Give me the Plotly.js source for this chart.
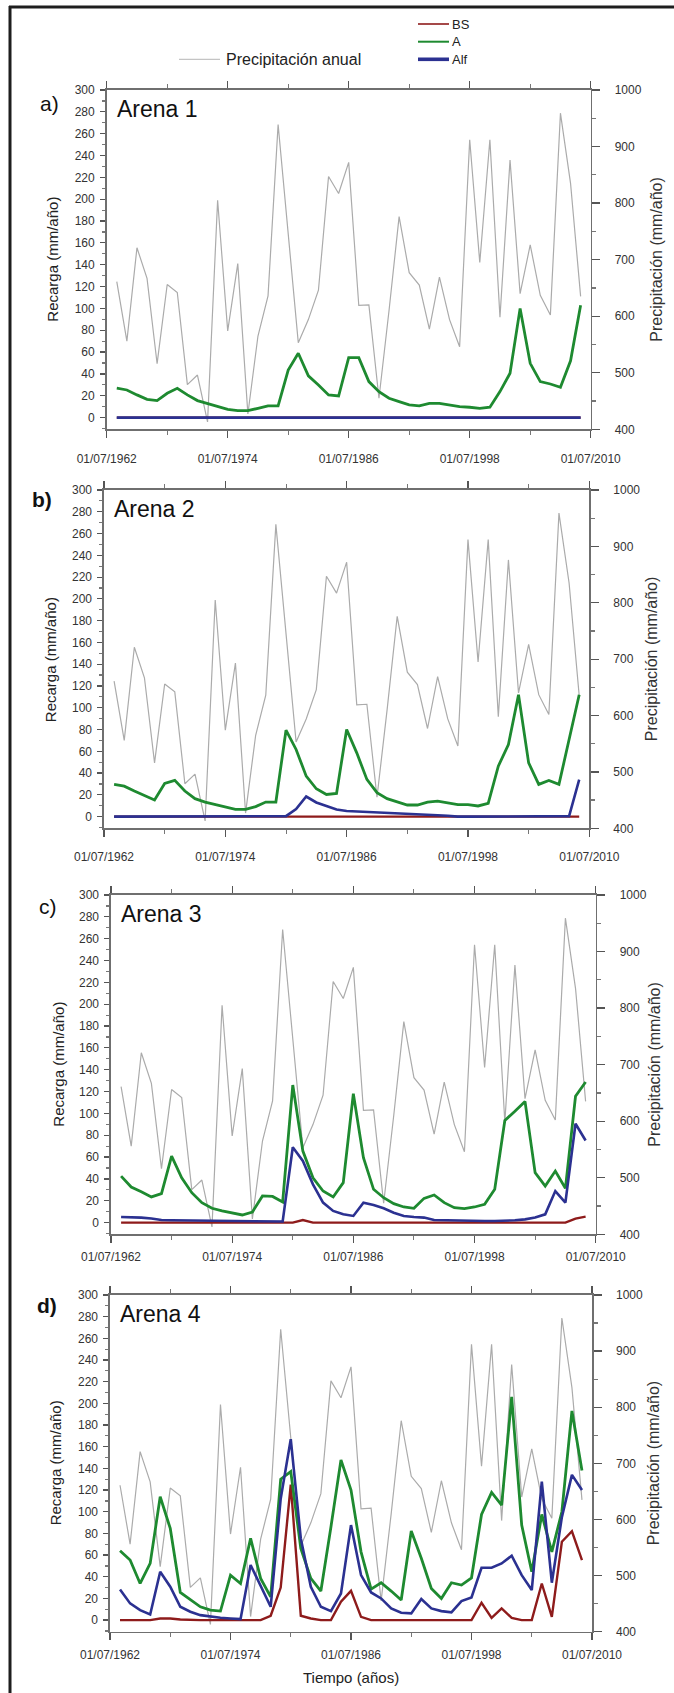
<!DOCTYPE html>
<html>
<head>
<meta charset="utf-8">
<script src="https://cdn.plot.ly/plotly-3.0.1.min.js"></script>
<style>
  html, body { margin: 0; padding: 0; background: #ffffff; }
  #chart { width: 674px; height: 1693px; }
</style>
</head>
<body>
<div id="chart"></div>
<script>
// Hydrological years (values dated 01/07 of each year)
const years = [1963, 1964, 1965, 1966, 1967, 1968, 1969, 1970, 1971, 1972,
               1973, 1974, 1975, 1976, 1977, 1978, 1979, 1980, 1981, 1982,
               1983, 1984, 1985, 1986, 1987, 1988, 1989, 1990, 1991, 1992,
               1993, 1994, 1995, 1996, 1997, 1998, 1999, 2000, 2001, 2002,
               2003, 2004, 2005, 2006, 2007, 2008, 2009];

// Annual precipitation (mm/año)
const precipitacion = [661, 556, 721, 667, 516, 656, 642, 479, 496, 413,
                       805, 574, 693, 427, 565, 636, 939, 745, 553, 594,
                       646, 847, 817, 872, 619, 620, 455, 610, 776, 677,
                       655, 577, 669, 594, 546, 912, 695, 912, 598, 876,
                       640, 726, 637, 602, 959, 835, 635];

// Recharge (mm/año) — Arena 1
const bsArena1  = [0,0,0,0,0,0,0,0,0,0, 0,0,0,0,0,0,0,0,0,0, 0,0,0,0,0,0,0,0,0,0,
                   0,0,0,0,0,0,0,0,0,0, 0,0,0,0,0,0,0];
const aArena1   = [26.9, 25.3, 20.8, 16.8, 15.6, 22.3, 26.9, 20.8, 15.6, 13.1,
                   10.1, 7.6, 6.4, 6.4, 8.5, 10.7, 10.7, 43.6, 58.9, 38.2,
                   29.9, 20.8, 19.8, 54.9, 54.9, 33, 23.8, 17.7, 14.6, 11.6,
                   10.7, 13.1, 13.1, 11.6, 10.1, 9.5, 8.5, 9.5, 23.8, 40.6,
                   100, 49.7, 33, 30.8, 27.8, 52, 103];
const alfArena1 = [0,0,0,0,0,0,0,0,0,0, 0,0,0,0,0,0,0,0,0,0, 0,0,0,0,0,0,0,0,0,0,
                   0,0,0,0,0,0,0,0,0,0, 0,0,0,0,0,0,0];

// Recharge (mm/año) — Arena 2
const bsArena2  = [0,0,0,0,0,0,0,0,0,0, 0,0,0,0,0,0,0,0,0,0, 0,0,0,0,0,0,0,0,0,0,
                   0,0,0,0,0,0,0,0,0,0, 0,0,0,0,0,0,0];
const aArena2   = [29.6, 28, 23.5, 19.5, 15.3, 30.5, 33.3, 23.5, 16.5, 13.4,
                   11.3, 9.2, 6.7, 6.7, 9.2, 13.4, 13.4, 79.4, 61.7, 37.2,
                   25.6, 20.4, 21.4, 80, 58.6, 34.2, 22, 16.5, 13.4, 10.7,
                   10.7, 13.4, 14.3, 12.8, 11, 11, 9.8, 12.2, 46.4, 66.2,
                   112, 49.4, 29.6, 33.3, 29.6, 70.8, 112];
const alfArena2 = [0, 0, 0, 0, 0, 0, 0, 0, 0, 0,
                   0, 0, 0, 0, 0, 0, 0, 0.5, 7, 18.5,
                   13, 9.5, 6.5, 5.2, 4.8, 4.5, 4.3, 3.8, 3.3, 2.8,
                   2.3, 1.8, 1.3, 0.8, 0, 0, 0, 0, 0, 0,
                   0, 0, 0, 0, 0, 0.5, 34];

// Recharge (mm/año) — Arena 3
const bsArena3  = [0, 0, 0, 0, 0, 0, 0, 0, 0, 0,
                   0, 0, 0, 0, 0, 0, 0, 0, 2.4, 0,
                   0, 0, 0, 0, 0, 0, 0, 0, 0, 0,
                   0, 0, 0, 0, 0, 0, 0, 0, 0, 0,
                   0, 0, 0, 0, 0, 3.7, 5.5];
const aArena3   = [42.6, 32.6, 28.3, 23.5, 26.5, 60.9, 41.1, 27.4, 18.3, 13.1,
                   10.7, 9.1, 7.0, 9.7, 24.4, 24, 18.9, 126, 65.5, 41.1,
                   28.9, 23.5, 36.6, 118, 59.4, 30.5, 22.8, 17.4, 14.3, 13.1,
                   22.2, 25.3, 18.3, 13.7, 12.8, 14.3, 16.8, 30.5, 93.5, 102,
                   111, 45.7, 33.5, 47.2, 31.4, 115.7, 128.8];
const alfArena3 = [5.2, 5.2, 4.6, 3.7, 2.4, 2.2, 2.1, 2.0, 1.9, 1.8,
                   1.7, 1.6, 1.5, 1.3, 1.2, 1.0, 1.0, 69, 56.4, 35,
                   18.3, 10.7, 7.6, 6.1, 18.3, 16.1, 13.1, 9.1, 6.1, 5.2,
                   4.6, 2.4, 2.1, 2.0, 1.8, 1.6, 1.5, 1.5, 1.5, 2.1,
                   3.0, 4.6, 7.6, 28.9, 18.3, 90.5, 75.2];

// Recharge (mm/año) — Arena 4
const bsArena4  = [0, 0, 0, 0, 1.5, 1.5, 0.5, 0, 0, 0,
                   0, 0, 0, 0, 0, 4, 30, 125, 4, 1.5,
                   0, 0, 17, 27, 3, 0, 0, 0, 0, 0,
                   0, 0, 0, 0, 0, 0, 16, 2, 10.8, 2,
                   0, 0, 33.8, 3, 72.3, 82, 55.4];
const aArena4   = [64, 55.4, 33.8, 52.3, 113.8, 84.6, 25.5, 18.5, 12.3, 9.2,
                   8.3, 41.5, 33.8, 75.4, 38.5, 21.5, 130, 137, 66.2, 38.5,
                   26.8, 86, 147.7, 120, 63, 28.6, 34.5, 26.8, 18.5, 82.2,
                   57, 29.2, 20, 34.5, 32.3, 39, 97.5, 117.8, 106, 206,
                   87.7, 44.6, 97.5, 63, 100, 193, 138];
const alfArena4 = [28.3, 15.4, 9.2, 5.2, 44.6, 30.8, 12.3, 7.7, 4.6, 3.1,
                   2.2, 1.5, 0.9, 50.8, 32.3, 12.3, 112, 167, 75.4, 30.8,
                   12.3, 8.3, 24.6, 87.7, 41.5, 25.5, 20, 10.8, 6.8, 6.2,
                   19.4, 10.8, 8.3, 7.1, 17.5, 20.9, 48.3, 48.3, 52.3, 59.4,
                   41.5, 27.7, 127.7, 34.5, 95, 134, 120];

const panelLetters = ['a)', 'b)', 'c)', 'd)'];
const panelNames   = ['Arena 1', 'Arena 2', 'Arena 3', 'Arena 4'];
const seriesBS  = [bsArena1, bsArena2, bsArena3, bsArena4];
const seriesA   = [aArena1, aArena2, aArena3, aArena4];
const seriesAlf = [alfArena1, alfArena2, alfArena3, alfArena4];

// ---- page geometry (pixels) ----
const W = 674, H = 1693;
const px = v => v / W;
const py = v => 1 - v / H;

const boxes = [
  { l: 106.7, r: 590.7, t: 90,   b: 429.3,  stand: 11, titleL: 53, titleR: 657, letterX: 49, letterY: 103,  bold: false },
  { l: 104,   r: 589.3, t: 490,  b: 828.3,  stand: 10, titleL: 50, titleR: 651, letterX: 42, letterY: 499,  bold: true  },
  { l: 111,   r: 595.7, t: 895,  b: 1234.3, stand: 4,  titleL: 59, titleR: 655, letterX: 48, letterY: 906,  bold: false },
  { l: 110,   r: 592,   t: 1295, b: 1631.7, stand: 4,  titleL: 55, titleR: 653, letterX: 47, letterY: 1305, bold: true  }
];

const COL_PRECIP = '#ababab';
const COL_BS  = '#8e1b1b';
const COL_A   = '#1e8a30';
const COL_ALF = '#2b3191';
const AXIS_COL = '#6f6f6f';
const TICK_FONT = { family: 'Liberation Sans, Arial, sans-serif', size: 12, color: '#333333' };
const TXT = 'Liberation Sans, Arial, sans-serif';

const dates = years.map(y => y + '-07-01');

const traces = [];
const layout = {
  width: W, height: H,
  margin: { l: 0, r: 0, t: 0, b: 0 },
  paper_bgcolor: '#ffffff',
  plot_bgcolor: 'rgba(0,0,0,0)',
  showlegend: false,
  shapes: [],
  annotations: []
};

boxes.forEach((bx, i) => {
  const n = i + 1;
  const xa = 'x' + (n === 1 ? '' : n);
  const yP = 'y' + (2 * n - 1 === 1 ? '' : 2 * n - 1);   // precipitation (right)
  const yR = 'y' + (2 * n);                               // recharge (left)
  const xKey = 'xaxis' + (n === 1 ? '' : n);
  const yPKey = 'yaxis' + (2 * n - 1 === 1 ? '' : 2 * n - 1);
  const yRKey = 'yaxis' + (2 * n);

  layout[xKey] = {
    domain: [px(bx.l), px(bx.r)],
    anchor: yP,
    type: 'date',
    range: ['1962-07-01', '2010-07-01'],
    tick0: '1962-07-01', dtick: 'M144',
    tickformat: '%d/%m/%Y',
    ticks: 'outside', ticklen: 7, tickwidth: 1.3, tickcolor: '#555',
    minor: { tick0: '1962-07-01', dtick: 'M72', ticks: 'outside', ticklen: 4, tickcolor: '#777', tickwidth: 1 },
    showline: true, linecolor: AXIS_COL, linewidth: 1.6,
    mirror: 'ticks',
    showgrid: false, zeroline: false,
    tickfont: TICK_FONT,
    ticklabelstandoff: bx.stand,
    fixedrange: true
  };
  layout[yPKey] = {
    domain: [py(bx.b), py(bx.t)],
    anchor: xa,
    side: 'right',
    range: [400, 1000],
    tick0: 400, dtick: 100,
    ticks: 'outside', ticklen: 8, tickwidth: 1.3, tickcolor: '#555',
    minor: { tick0: 400, dtick: 50, ticks: 'outside', ticklen: 4, tickcolor: '#777' },
    showline: true, linecolor: AXIS_COL, linewidth: 1.6,
    showgrid: false, zeroline: false,
    tickfont: TICK_FONT,
    ticklabelstandoff: 12,
    fixedrange: true
  };
  layout[yRKey] = {
    overlaying: yP,
    anchor: xa,
    side: 'left',
    range: [-10.7, 300],
    tick0: 0, dtick: 20,
    ticks: 'outside', ticklen: 5, tickwidth: 1.2, tickcolor: '#555',
    minor: { tick0: 0, dtick: 10, ticks: 'outside', ticklen: 3, tickcolor: '#777' },
    showline: true, linecolor: AXIS_COL, linewidth: 1.6,
    showgrid: false, zeroline: false,
    tickfont: TICK_FONT,
    ticklabelstandoff: 3,
    fixedrange: true
  };

  traces.push({
    x: dates, y: precipitacion, xaxis: xa, yaxis: yP,
    type: 'scatter', mode: 'lines', name: 'Precipitación anual',
    line: { color: COL_PRECIP, width: 1.2 }
  });
  traces.push({
    x: dates, y: seriesBS[i], xaxis: xa, yaxis: yR,
    type: 'scatter', mode: 'lines', name: 'BS',
    line: { color: COL_BS, width: 2.4 }
  });
  traces.push({
    x: dates, y: seriesA[i], xaxis: xa, yaxis: yR,
    type: 'scatter', mode: 'lines', name: 'A',
    line: { color: COL_A, width: 2.8 }
  });
  traces.push({
    x: dates, y: seriesAlf[i], xaxis: xa, yaxis: yR,
    type: 'scatter', mode: 'lines', name: 'Alf',
    line: { color: COL_ALF, width: 2.6 }
  });

  const midY = py((bx.t + bx.b) / 2);
  layout.annotations.push(
    { text: panelNames[i], xref: 'paper', yref: 'paper', x: px(bx.l + 8), y: py(bx.t + 19),
      xanchor: 'left', yanchor: 'middle', showarrow: false,
      font: { family: TXT, size: 23, color: '#111' } },
    { text: bx.bold ? '<b>' + panelLetters[i] + '</b>' : panelLetters[i],
      xref: 'paper', yref: 'paper', x: px(bx.letterX), y: py(bx.letterY),
      xanchor: 'center', yanchor: 'middle', showarrow: false,
      font: { family: TXT, size: 21, color: '#111' } },
    { text: 'Recarga (mm/año)', xref: 'paper', yref: 'paper', x: px(bx.titleL), y: midY,
      xanchor: 'center', yanchor: 'middle', textangle: -90, showarrow: false,
      font: { family: TXT, size: 15, color: '#222' } },
    { text: 'Precipitación (mm/año)', xref: 'paper', yref: 'paper', x: px(bx.titleR), y: midY,
      xanchor: 'center', yanchor: 'middle', textangle: -90, showarrow: false,
      font: { family: TXT, size: 16, color: '#333' } }
  );
});

// x-axis title of the bottom panel
layout.annotations.push({
  text: 'Tiempo (años)', xref: 'paper', yref: 'paper', x: px(351), y: py(1677),
  xanchor: 'center', yanchor: 'middle', showarrow: false,
  font: { family: TXT, size: 15, color: '#222' }
});

// Legend drawn at the top of the figure
const legendRows = [
  { label: 'BS',  color: COL_BS,  width: 1.6, y: 24 },
  { label: 'A',   color: COL_A,   width: 2.0, y: 41.7 },
  { label: 'Alf', color: COL_ALF, width: 3.6, y: 59.3 }
];
legendRows.forEach(r => {
  layout.shapes.push({ type: 'line', xref: 'paper', yref: 'paper',
    x0: px(418), x1: px(449), y0: py(r.y), y1: py(r.y),
    line: { color: r.color, width: r.width } });
  layout.annotations.push({ text: r.label, xref: 'paper', yref: 'paper',
    x: px(450), y: py(r.y), xanchor: 'left', yanchor: 'middle', showarrow: false,
    font: { family: TXT, size: 13, color: '#222' } });
});
layout.shapes.push({ type: 'line', xref: 'paper', yref: 'paper',
  x0: px(179), x1: px(220), y0: py(59.3), y1: py(59.3),
  line: { color: '#c4c4c4', width: 1.2 } });
layout.annotations.push({ text: 'Precipitación anual', xref: 'paper', yref: 'paper',
  x: px(224), y: py(59.3), xanchor: 'left', yanchor: 'middle', showarrow: false,
  font: { family: TXT, size: 16, color: '#222' } });

// Figure frame (left and top edges)
layout.shapes.push(
  { type: 'line', xref: 'paper', yref: 'paper', x0: px(10), x1: px(10), y0: py(6), y1: py(H),
    line: { color: '#1e1e1e', width: 3 } },
  { type: 'line', xref: 'paper', yref: 'paper', x0: px(9), x1: px(W), y0: py(7), y1: py(7),
    line: { color: '#1e1e1e', width: 3 } }
);

Plotly.newPlot('chart', traces, layout, { staticPlot: true, displayModeBar: false });
</script>
</body>
</html>
